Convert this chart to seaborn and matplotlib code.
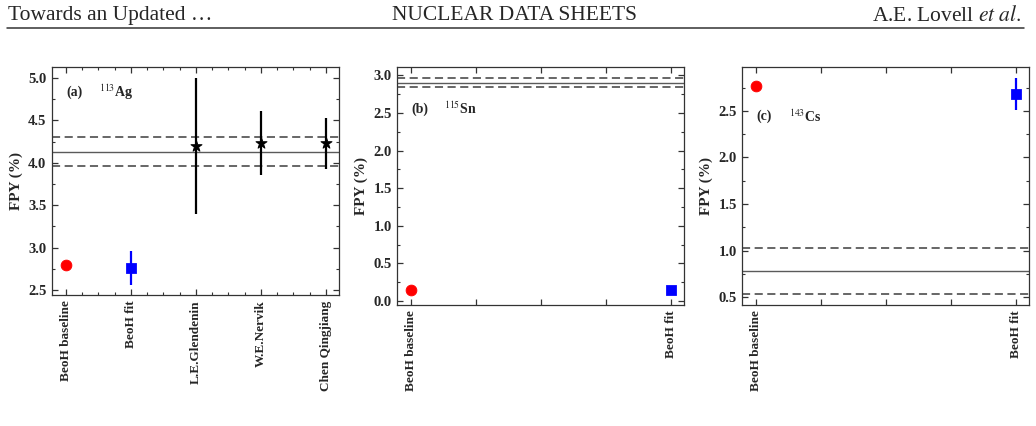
import numpy as np
import matplotlib
matplotlib.use("Agg")
import matplotlib.pyplot as plt
import seaborn as sns
from matplotlib.ticker import MultipleLocator, FixedLocator, FormatStrFormatter

# DATA

# panel (a) 113Ag
ag_labels = ['BeoH baseline', 'BeoH fit', 'L.E.Glendenin', 'W.E.Nervik', 'Chen Qingjiang']
ag_baseline = 2.79
ag_fit, ag_fit_err = 2.76, 0.20
ag_exp = [4.20, 4.23, 4.23]
ag_exp_err = [0.80, 0.38, 0.30]
ag_eval, ag_eval_err = 4.13, 0.17

# panel (b) 115Sn
sn_labels = ['BeoH baseline', '', '', '', 'BeoH fit']
sn_baseline = 0.14
sn_fit, sn_fit_err = 0.14, 0.0
sn_eval, sn_eval_err = 2.90, 0.06

# panel (c) 143Cs
cs_labels = ['BeoH baseline', '', '', '', 'BeoH fit']
cs_baseline = 2.765
cs_fit, cs_fit_err = 2.68, 0.17
cs_eval, cs_eval_err = 0.78, 0.25

#______________________________________________________________________

sns.set_style("ticks")
plt.rcParams['font.family'] = ['Liberation Serif', 'DejaVu Serif']
plt.rcParams['mathtext.fontset'] = 'stix'

fig = plt.figure(figsize=(10.36, 4.26), dpi=100)

# page header
fig.text(0.008, 0.963, 'Towards an Updated \u2026', fontsize=15.5, va='center', ha='left')
fig.text(0.497, 0.963, 'NUCLEAR DATA SHEETS', fontsize=15.5, va='center', ha='center')
fig.text(0.986, 0.963, 'A.E. Lovell $\\it{et\\ al.}$', fontsize=15.5, va='center', ha='right')
fig.add_artist(plt.Line2D([0.007, 0.988], [0.9336, 0.9336], color='#333333', lw=1.1))

grey = '#5a5a5a'


def style_axis(ax, xticks, labels, xlim, ylim, xminor=None):
    ax.set_xlim(*xlim)
    ax.set_ylim(*ylim)
    ax.xaxis.set_major_locator(FixedLocator(xticks))
    ax.set_xticklabels(labels, rotation=90, fontweight='bold', fontsize=9.5, va='top')
    if xminor:
        ax.xaxis.set_minor_locator(MultipleLocator(xminor))
    ax.yaxis.set_major_locator(MultipleLocator(0.5))
    ax.yaxis.set_minor_locator(MultipleLocator(0.25))
    ax.yaxis.set_major_formatter(FormatStrFormatter('%.1f'))
    for lab in ax.get_yticklabels():
        lab.set_fontweight('bold')
        lab.set_fontsize(10.5)
    ax.tick_params(which='both', direction='in', top=True, right=True, color='#333333')
    ax.tick_params(which='major', length=4.5, width=0.9, pad=4)
    ax.tick_params(which='minor', length=2.5, width=0.8)
    for s in ax.spines.values():
        s.set_linewidth(0.9)
        s.set_color('#333333')
    ax.set_ylabel('FPY (%)', fontweight='bold', fontsize=11, labelpad=4)
    ax.set_xlabel('')


def eval_band(ax, val, err):
    ax.axhline(val, color=grey, lw=1.0, zorder=1)
    ax.axhline(val + err, color=grey, lw=1.3, ls=(0, (4.5, 2.5)), zorder=1)
    ax.axhline(val - err, color=grey, lw=1.3, ls=(0, (4.5, 2.5)), zorder=1)


def beoh_points(ax, xb, xf, base, fit, fit_err):
    ax.errorbar([xf], [fit], yerr=[fit_err], fmt='none', ecolor='blue', elinewidth=1.6, zorder=3)
    sns.scatterplot(x=[xb], y=[base], ax=ax, color='red', marker='o', s=60, edgecolor='red', zorder=4)
    sns.scatterplot(x=[xf], y=[fit], ax=ax, color='blue', marker='s', s=50, edgecolor='blue', zorder=4)


def panel_text(ax, tag, nucl, y):
    ax.text(0.049, y, tag, transform=ax.transAxes, fontweight='bold', fontsize=10, va='center')
    ax.text(0.163, y, nucl, transform=ax.transAxes, fontweight='bold', fontsize=10, va='center')


# (a) 113Ag
ax1 = fig.add_axes([0.0502, 0.3075, 0.2770, 0.5352])
eval_band(ax1, ag_eval, ag_eval_err)
beoh_points(ax1, 0, 1, ag_baseline, ag_fit, ag_fit_err)
xexp = np.arange(2, 2 + len(ag_exp))
ax1.errorbar(xexp, ag_exp, yerr=ag_exp_err, fmt='none', ecolor='black', elinewidth=1.6, zorder=3)
sns.scatterplot(x=xexp, y=ag_exp, ax=ax1, color='black', marker='*', s=70, edgecolor='black', zorder=4)
style_axis(ax1, np.arange(len(ag_labels)), ag_labels, (-0.215, 4.2), (2.44, 5.13), 0.25)
panel_text(ax1, '(a)', r'$^{113}$Ag', 0.89)

# (b) 115Sn
ax2 = fig.add_axes([0.3835, 0.2847, 0.2770, 0.558])
eval_band(ax2, sn_eval, sn_eval_err)
beoh_points(ax2, 0, 1, sn_baseline, sn_fit, sn_fit_err)
style_axis(ax2, np.linspace(0, 1, len(sn_labels)), sn_labels, (-0.053, 1.053), (-0.05, 3.11))
panel_text(ax2, '(b)', r'$^{115}$Sn', 0.823)

# (c) 143Cs
ax3 = fig.add_axes([0.7165, 0.2847, 0.2770, 0.558])
eval_band(ax3, cs_eval, cs_eval_err)
beoh_points(ax3, 0, 1, cs_baseline, cs_fit, cs_fit_err)
style_axis(ax3, np.linspace(0, 1, len(cs_labels)), cs_labels, (-0.053, 1.053), (0.42, 2.97))
panel_text(ax3, '(c)', r'$^{143}$Cs', 0.791)

plt.savefig('out.png', dpi=100)
